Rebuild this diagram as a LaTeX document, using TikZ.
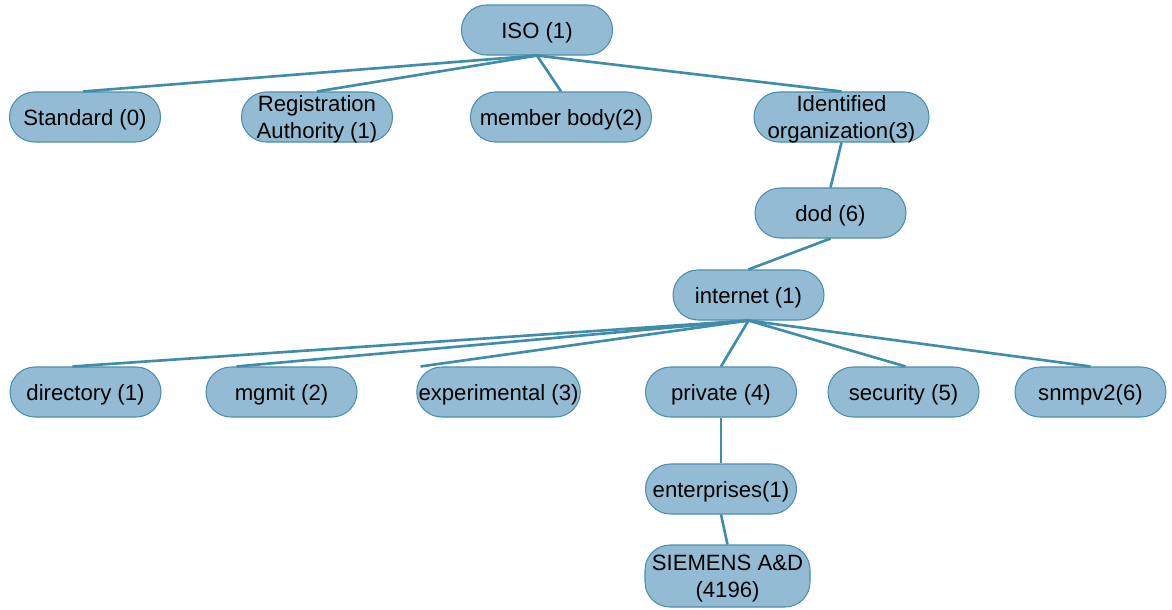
\documentclass[tikz,border=0pt]{standalone}
\usepackage{fontspec}
\setmainfont{Liberation Sans}
\definecolor{oidfill}{HTML}{93BCD4}
\definecolor{oiddraw}{HTML}{4A8EAF}
\definecolor{oidline}{HTML}{3F8CAB}
\tikzset{
    oidbase/.style={draw=oiddraw, fill=oidfill, line width=0.6pt, rounded corners=0.5cm,
        minimum width=3.02cm, minimum height=1cm, inner xsep=1pt, inner ysep=2pt,
        align=center, font=\fontsize{12.6}{15.3}\selectfont},
    oidbox/.style={oidbase, text height=12.5pt},
    oidtwo/.style={oidbase, inner ysep=0pt, text depth=0pt},
    oidedge/.style={draw=oidline, line width=1.5pt}
}
\begin{document}
\begin{tikzpicture}
    \useasboundingbox (0,0) rectangle (23.44,-12.18);
    % top level
    \node[oidbox] (iso) at (10.74,-0.60) {ISO (1)};
    \node[oidbox] (std) at (1.70,-2.34) {Standard (0)};
    \node[oidtwo] (reg) at (6.34,-2.34) {Registration\\Authority (1)};
    \node[oidbox, minimum width=3.62cm] (mem) at (11.22,-2.34) {member body(2)};
    \node[oidtwo, minimum width=3.5cm] (idf) at (16.83,-2.34) {Identified\\organization(3)};
    \node[oidbox] (dod) at (16.61,-4.26) {dod (6)};
    \node[oidbox] (inet) at (14.97,-5.90) {internet (1)};
    % internet subtree
    \node[oidbox] (dir) at (1.71,-7.84) {directory (1)};
    \node[oidbox] (mgm) at (5.63,-7.84) {mgmit (2)};
    \node[oidbox, minimum width=3.26cm] (exp) at (9.97,-7.84) {experimental (3)};
    \node[oidbox] (prv) at (14.42,-7.84) {private (4)};
    \node[oidbox] (sec) at (18.07,-7.84) {security (5)};
    \node[oidbox] (snm) at (21.81,-7.84) {snmpv2(6)};
    \node[oidbox] (ent) at (14.42,-9.78) {enterprises(1)};
    \node[oidtwo, minimum width=3.3cm, minimum height=1.24cm] (sie) at (14.55,-11.52) {SIEMENS A\&D\\(4196)};
    % connectors
    \foreach \c/\dx in {std/-0.04, reg/0, mem/0, idf/0} {
        \draw[oidedge] (iso.south) -- ([xshift=\dx cm]\c.north);
    }
    \foreach \c/\dx in {dir/-0.26, mgm/-0.90, exp/-1.56, prv/0, sec/0.04, snm/0} {
        \draw[oidedge] (inet.south) -- ([xshift=\dx cm]\c.north);
    }
    \draw[oidedge] (idf.south) -- (dod.north);
    \draw[oidedge] (dod.south) -- (inet.north);
    \draw[oidedge] (prv.south) -- (ent.north);
    \draw[oidedge] (ent.south) -- (sie.north);
\end{tikzpicture}
\end{document}
